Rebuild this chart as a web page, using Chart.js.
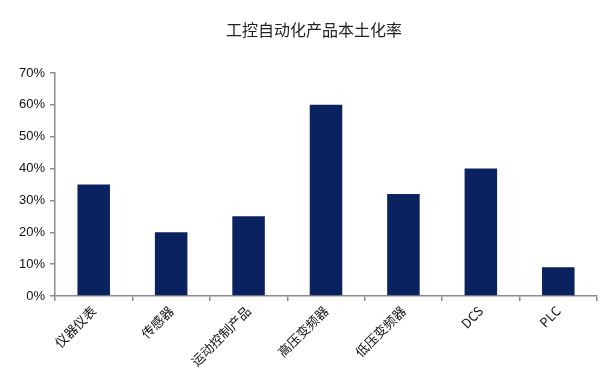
<!DOCTYPE html>
<html><head><meta charset="utf-8">
<script src="https://cdn.jsdelivr.net/npm/chart.js@4"></script>
<style>html,body{margin:0;padding:0;background:#fff}#wrap{width:614px;height:373px}</style>
</head><body><div id="wrap"><canvas id="c" width="614" height="373"></canvas></div>
<script>
const categories = ['仪器仪表','传感器','运动控制产品','高压变频器','低压变频器','DCS','PLC'];
const localizationRate = [35, 20, 25, 60, 32, 40, 9];
const yTicks = [0,10,20,30,40,50,60,70];
const titleText = '工控自动化产品本土化率';

const axisColor = '#8c8c8c';
const titlePlugin = {
  id: 'customTitle',
  afterDraw(chart) {
    const ctx = chart.ctx;
    ctx.save();
    ctx.font = '16px "Noto Sans CJK SC"';
    ctx.fillStyle = '#222';
    ctx.textAlign = 'center';
    ctx.textBaseline = 'middle';
    ctx.fillText(titleText, 314, 30);
    ctx.restore();
  }
};
new Chart(document.getElementById('c'), {
  type: 'bar',
  data: { labels: categories, datasets: [{ data: localizationRate, backgroundColor: '#0b2260', categoryPercentage: 1, barPercentage: 0.42 }] },
  options: {
    responsive: false, animation: false,
    layout: { padding: { left: 0, right: 17, top: 73, bottom: 0 } },
    plugins: { legend: { display: false }, tooltip: { enabled: false }, title: { display: false } },
    scales: {
      x: {
        grid: { display: true, drawOnChartArea: false, offset: true, color: axisColor, tickLength: 5, lineWidth: 1.5 },
        border: { color: axisColor, width: 1.5 },
        ticks: { color: '#111', font: { family: '"Noto Sans CJK SC"', size: 13 }, maxRotation: 45, minRotation: 45, padding: 2, autoSkip: false },
        afterFit: s => { s.height = 77; }
      },
      y: {
        min: 0, max: 70,
        afterBuildTicks: s => { s.ticks = yTicks.map(v => ({ value: v })); },
        grid: { display: true, drawOnChartArea: false, color: axisColor, tickLength: 5, lineWidth: 1.5 },
        border: { color: axisColor, width: 1.5 },
        ticks: { color: '#111', font: { family: '"Liberation Sans"', size: 13 }, padding: 5, callback: v => v + '%' },
        afterFit: s => { s.width = 55; }
      }
    }
  },
  plugins: [titlePlugin]
});
</script></body></html>
